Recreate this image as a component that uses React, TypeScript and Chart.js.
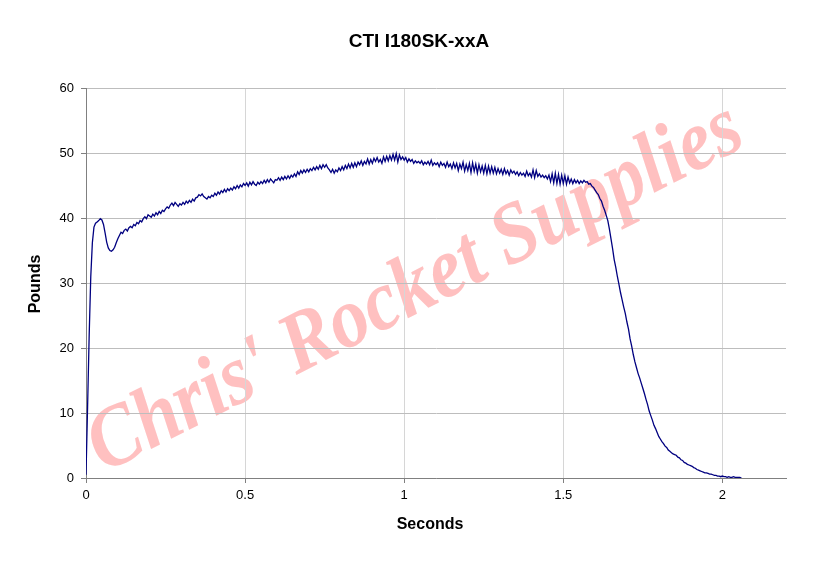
import React, { useEffect, useRef } from "react";
import { Chart, registerables } from "chart.js";

Chart.register(...registerables);

const CHART_TITLE = "CTI I180SK-xxA";
const X_TITLE = "Seconds";
const Y_TITLE = "Pounds";
const WATERMARK = "Chris' Rocket Supplies";

// Sample interval of the recorded thrust trace, seconds
const SAMPLE_STEP = 0.005;

// Thrust (pounds), one sample every SAMPLE_STEP seconds (rows of 0.05 s)
const THRUST: number[] = [
  0.5, 11, 22, 31, 36.2, 38.6, 39.2, 39.4, 39.6, 39.9,
  39.7, 39.0, 37.7, 36.3, 35.4, 35.0, 34.9, 35.1, 35.5, 36.2,
  36.8, 37.3, 37.8, 37.6, 38.1, 38.3, 38.0, 38.5, 38.7, 38.5,
  39.0, 38.8, 39.3, 39.1, 39.6, 39.4, 39.9, 40.2, 39.9, 40.5,
  40.3, 40.1, 40.6, 40.3, 40.8, 40.5, 41.0, 40.7, 41.2, 41.0,
  41.4, 41.7, 41.5, 42.0, 42.3, 41.9, 42.4, 42.1, 41.8, 42.2,
  42.0, 42.4, 42.1, 42.6, 42.3, 42.7, 42.4, 42.9, 42.6, 43.1,
  43.2, 43.6, 43.4, 43.7, 43.3, 43.1, 42.9, 43.3, 43.1, 43.5,
  43.3, 43.8, 43.5, 44.0, 43.7, 44.2, 43.9, 44.4, 44.0, 44.5,
  44.2, 44.6, 44.3, 44.8, 44.5, 45.0, 44.6, 45.1, 44.8, 45.3,
  45.0, 45.4, 44.9, 45.5, 45.1, 45.6, 45.2, 45.0, 45.5, 45.2,
  45.6, 45.3, 45.8, 45.4, 45.9, 45.5, 46.0, 45.7, 45.4, 45.9,
  45.8, 46.2, 45.8, 46.3, 45.9, 46.4, 46.0, 46.5, 46.1, 46.6,
  46.3, 46.8, 46.4, 47.1, 46.7, 47.3, 46.9, 47.4, 47.0, 47.5,
  47.1, 47.6, 47.3, 47.8, 47.4, 47.9, 47.5, 48.1, 47.6, 48.2,
  47.8, 48.2, 47.7, 47.4, 47.0, 47.5, 46.9, 47.4, 47.1, 47.7,
  47.3, 47.9, 47.4, 48.1, 47.6, 48.3, 47.7, 48.4, 47.8, 48.5,
  47.9, 48.6, 48.2, 48.8, 48.1, 48.7, 48.3, 49.1, 48.3, 49.0,
  48.4, 49.2, 48.7, 49.3, 48.6, 49.0, 48.4, 49.4, 48.7, 49.5,
  48.8, 49.6, 48.9, 49.8, 48.9, 49.9, 48.6, 49.7, 49.0, 49.4,
  48.9, 49.3, 48.6, 49.1, 48.7, 49.0, 48.4, 48.8, 48.5, 48.7,
  48.4, 48.8, 48.2, 48.6, 48.3, 48.7, 48.2, 48.9, 48.1, 48.5,
  48.2, 48.5, 47.9, 48.6, 48.1, 48.4, 47.8, 48.6, 47.9, 48.3,
  47.6, 48.5, 47.7, 48.4, 47.3, 48.3, 47.6, 48.6, 47.2, 48.2,
  47.3, 48.4, 47.0, 48.5, 47.2, 48.3, 46.9, 48.2, 47.1, 48.0,
  46.9, 48.1, 46.8, 48.0, 46.9, 47.9, 46.9, 47.8, 46.8, 47.6,
  46.9, 47.5, 46.7, 47.6, 46.8, 47.3, 46.6, 47.4, 46.9, 47.2,
  46.7, 47.1, 46.5, 47.0, 46.6, 46.9, 46.4, 47.2, 46.5, 46.9,
  46.3, 47.4, 46.2, 47.3, 46.4, 46.8, 46.3, 46.6, 46.2, 46.5,
  46.0, 46.6, 45.6, 46.8, 45.4, 46.9, 45.3, 46.7, 45.2, 46.6,
  45.3, 46.5, 45.2, 46.3, 45.4, 46.0, 45.3, 45.9, 45.4, 45.8,
  45.3, 45.7, 45.4, 45.8, 45.5, 45.6, 45.2, 45.3, 44.9, 44.7,
  44.3, 43.9, 43.6, 43.0, 42.6, 41.8, 41.2, 40.4, 39.6, 38.3,
  36.8, 35.3, 33.6, 32.4, 31.0, 29.8, 28.5, 27.4, 26.3, 25.3,
  24.0, 22.9, 21.4, 20.3, 19.0, 17.9, 17.0, 16.1, 15.4, 14.6,
  13.8, 13.0, 12.1, 11.3, 10.3, 9.6, 8.9, 8.1, 7.6, 7.0,
  6.4, 6.0, 5.6, 5.3, 4.9, 4.7, 4.3, 4.1, 3.9, 3.7,
  3.6, 3.5, 3.2, 3.1, 2.8, 2.7, 2.4, 2.3, 2.1, 2.0,
  1.9, 1.8, 1.6, 1.5, 1.3, 1.2, 1.1, 1.0, 0.9, 0.8,
  0.8, 0.7, 0.6, 0.6, 0.5, 0.4, 0.4, 0.3, 0.3, 0.2,
  0.3, 0.2, 0.2, 0.1, 0.2, 0.1, 0.1, 0.2, 0.1, 0.1,
  0.1, 0.1, 0.0,
];

const X_TICKS = [0, 0.5, 1, 1.5, 2];
const X_MIN = 0;
const X_MAX = 2.2;
const Y_MIN = 0;
const Y_MAX = 60;
const Y_STEP = 10;

const FONT = '"Liberation Sans", Arial, sans-serif';

export default function App() {
  const canvasRef = useRef<HTMLCanvasElement | null>(null);

  useEffect(() => {
    document.body.style.margin = "0";
    const canvas = canvasRef.current;
    if (!canvas) return;

    const points = THRUST.map((y, i) => ({ x: +(i * SAMPLE_STEP).toFixed(4), y }));

    const decor = {
      id: "decor",
      beforeDraw(chart: any) {
        const ctx = chart.ctx;
        const a = chart.chartArea;
        ctx.save();
        ctx.translate(a.left + 340, a.top + 221);
        ctx.rotate((-27 * Math.PI) / 180);
        ctx.scale(1, 1.12);
        ctx.font = 'italic bold 77px "Liberation Serif", "Times New Roman", serif';
        ctx.fillStyle = "#ffc0c0";
        ctx.textAlign = "center";
        ctx.textBaseline = "alphabetic";
        ctx.fillText(WATERMARK, 0, 0);
        ctx.restore();
      },
      afterDraw(chart: any) {
        const ctx = chart.ctx;
        const a = chart.chartArea;
        ctx.save();
        ctx.fillStyle = "#000";
        ctx.textAlign = "center";
        ctx.textBaseline = "middle";
        ctx.font = `bold 19px ${FONT}`;
        ctx.fillText(CHART_TITLE, 419, 42);
        ctx.font = `bold 16px ${FONT}`;
        ctx.fillText(X_TITLE, 430, a.bottom + 47);
        ctx.translate(36, 284);
        ctx.rotate(-Math.PI / 2);
        ctx.fillText(Y_TITLE, 0, 0);
        ctx.restore();
      },
    };

    const chart = new Chart(canvas, {
      type: "line",
      data: {
        datasets: [
          {
            data: points,
            borderColor: "#000080",
            borderWidth: 1.3,
            pointRadius: 0,
            tension: 0,
            fill: false,
          },
        ],
      },
      options: {
        animation: false,
        responsive: false,
        layout: { padding: { left: 0, top: 88, right: 46, bottom: 0 } },
        plugins: {
          legend: { display: false },
          title: { display: false },
          tooltip: { enabled: false },
        },
        scales: {
          x: {
            type: "linear",
            min: X_MIN,
            max: X_MAX,
            afterFit(scale: any) {
              scale.height = 95;
            },
            afterBuildTicks(scale: any) {
              scale.ticks = X_TICKS.map((v) => ({ value: v }));
            },
            grid: {
              color: "#d6d6d6",
              tickColor: "#808080",
              tickLength: 5,
              lineWidth: 1,
            },
            border: { color: "#808080", width: 1 },
            ticks: {
              color: "#000",
              font: { family: FONT, size: 13 },
              padding: 5,
              maxRotation: 0,
              callback: (v: any) => String(v),
            },
          },
          y: {
            type: "linear",
            min: Y_MIN,
            max: Y_MAX,
            afterFit(scale: any) {
              scale.width = 86;
            },
            grid: {
              color: "#bdbdbd",
              tickColor: "#808080",
              tickLength: 5,
              lineWidth: 1,
            },
            border: { color: "#808080", width: 1 },
            ticks: {
              stepSize: Y_STEP,
              color: "#000",
              font: { family: FONT, size: 13 },
              padding: 7,
            },
          },
        },
      },
      plugins: [decor],
    } as any);

    return () => chart.destroy();
  }, []);

  return <canvas ref={canvasRef} width={832} height={573} style={{ display: "block" }} />;
}
